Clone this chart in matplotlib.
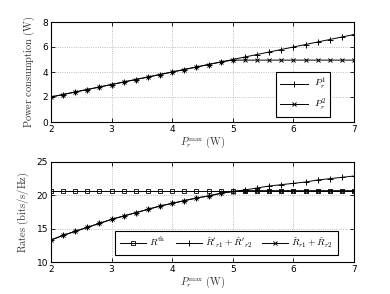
import matplotlib
matplotlib.use("Agg")
import matplotlib.pyplot as plt
import numpy as np

plt.rcParams['mathtext.fontset'] = 'cm'
plt.rcParams['font.family'] = 'DejaVu Sans'

x = [2.0, 2.2, 2.4, 2.6, 2.8, 3.0, 3.2, 3.4, 3.6, 3.8, 4.0, 4.2, 4.4, 4.6, 4.8,
     5.0, 5.2, 5.4, 5.6, 5.8, 6.0, 6.2, 6.4, 6.6, 6.8, 7.0]
p1 = [2.0, 2.2, 2.4, 2.6, 2.8, 3.0, 3.2, 3.4, 3.6, 3.8, 4.0, 4.2, 4.4, 4.6, 4.8,
      5.0, 5.2, 5.4, 5.6, 5.8, 6.0, 6.2, 6.4, 6.6, 6.8, 7.0]
p2 = [2.0, 2.2, 2.4, 2.6, 2.8, 3.0, 3.2, 3.4, 3.6, 3.8, 4.0, 4.2, 4.4, 4.6, 4.8,
      4.95, 4.95, 4.95, 4.95, 4.95, 4.95, 4.95, 4.95, 4.95, 4.95, 4.95]
r_th = [20.7] * 26
r_prime = [13.3, 14.0, 14.6, 15.2, 15.8, 16.4, 16.9, 17.4, 17.9, 18.4, 18.8, 19.2,
           19.6, 19.9, 20.3, 20.6, 20.8, 21.1, 21.4, 21.6, 21.8, 22.0, 22.3, 22.5,
           22.7, 22.9]
r_hat = [13.3, 14.0, 14.6, 15.2, 15.8, 16.4, 16.9, 17.4, 17.9, 18.4, 18.8, 19.2,
         19.6, 19.9, 20.3, 20.55, 20.7, 20.7, 20.7, 20.7, 20.7, 20.7, 20.7, 20.7,
         20.7, 20.7]

fig = plt.figure(figsize=(3.9, 2.94), dpi=100)
W, H = 390, 294
ax1 = fig.add_axes([51/W, 1-122/H, (354-51)/W, (122-22)/H])
ax2 = fig.add_axes([51/W, 1-262/H, (354-51)/W, (262-162)/H])

lw = 0.7
ms = 4.5
ax1.plot(x, p1, '-', color='black', marker='+', ms=ms, mew=0.7, lw=lw, label=r'$P_r^1$')
ax1.plot(x, p2, '-', color='black', marker='x', ms=3.5, mew=0.7, lw=lw, label=r'$P_r^2$')
ax1.set_xlim(2, 7)
ax1.set_ylim(0, 8)
ax1.set_yticks([0, 2, 4, 6, 8])
ax1.set_ylabel(r'$\mathrm{Power\ consumption\ (W)}$', fontsize=7.5, color='#333333')
ax1.set_xlabel(r'$P_r^{\max}\ \mathrm{(W)}$', fontsize=7.5, color='#333333', labelpad=1)
leg1 = ax1.legend(loc='lower right', bbox_to_anchor=(0.921, 0.05), fontsize=7,
                  fancybox=False, edgecolor='black', framealpha=1, handlelength=2.8,
                  labelspacing=0.45, borderpad=0.45, handletextpad=0.6, borderaxespad=0)
leg1.get_frame().set_linewidth(0.8)

ax2.plot(x, r_th, '-', color='black', marker='s', ms=3.5, mfc='none', mew=0.6, lw=lw,
         label=r'$R^{\rm th}$')
ax2.plot(x, r_prime, '-', color='black', marker='+', ms=ms, mew=0.7, lw=lw,
         label=r"$\hat{R}'_{r1}+\hat{R}'_{r2}$")
ax2.plot(x, r_hat, '-', color='black', marker='x', ms=3.5, mew=0.7, lw=lw,
         label=r'$\hat{R}_{r1}+\hat{R}_{r2}$')
ax2.set_xlim(2, 7)
ax2.set_ylim(10, 25)
ax2.set_yticks([10, 15, 20, 25])
ax2.set_ylabel(r'$\mathrm{Rates\ (bits/s/Hz)}$', fontsize=7.5, color='#333333')
ax2.set_xlabel(r'$P_r^{\max}\ \mathrm{(W)}$', fontsize=7.5, color='#333333', labelpad=1)
leg2 = ax2.legend(loc='lower right', bbox_to_anchor=(0.947, 0.07), ncol=3, fontsize=7,
                  fancybox=False, edgecolor='black', framealpha=1, handlelength=2.7,
                  columnspacing=1.0, borderpad=0.5, handletextpad=0.3, borderaxespad=0)
leg2.get_frame().set_linewidth(0.8)

for ax in (ax1, ax2):
    ax.set_xticks([2, 3, 4, 5, 6, 7])
    ax.grid(True, linestyle=':', color='#aaaaaa', linewidth=0.6)
    ax.tick_params(direction='in', length=3, width=0.6, labelsize=6.5, pad=2,
                   top=True, right=True)
    for s in ax.spines.values():
        s.set_linewidth(0.8)

fig.savefig('out.png', dpi=100)
